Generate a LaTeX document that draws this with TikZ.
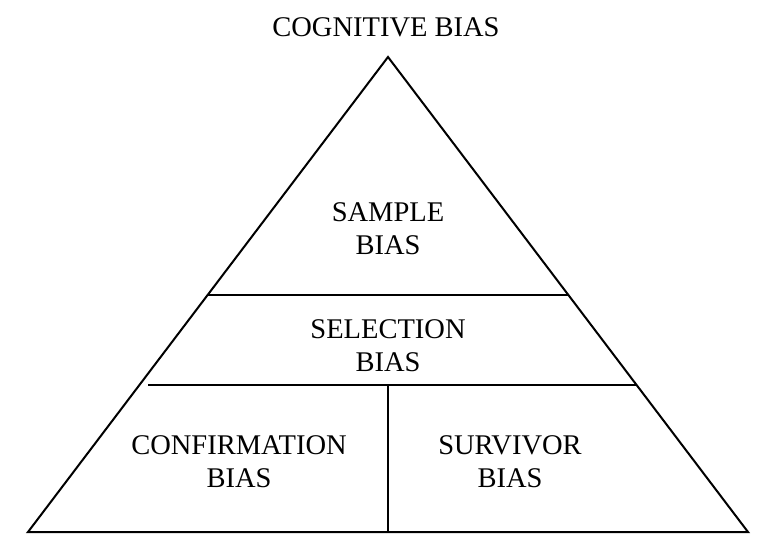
\documentclass[tikz,border=0pt]{standalone}
\usepackage{fontspec}
\setmainfont{Liberation Serif}
\begin{document}
\begin{tikzpicture}[x=1pt,y=-1pt,
  lbl/.style={font=\fontsize{28.5}{33}\selectfont, align=center, inner sep=0pt},
  outline/.style={line width=2pt, line join=miter},
  divider/.style={line width=1.3pt}]
\useasboundingbox (0,0) rectangle (777,556);
\coordinate (apex) at (388,57);
\coordinate (bl) at (28,532);
\coordinate (br) at (748,532);
\draw[outline] (apex) -- (br) -- (bl) -- cycle;
\coordinate (u1) at (207.6,295);
\coordinate (u2) at (568.4,295);
\coordinate (l1) at (148,385);
\coordinate (l2) at (635.5,385);
\coordinate (vt) at (388,385);
\coordinate (vb) at (388,532);
\draw[divider] (u1) -- (u2);
\draw[divider] (l1) -- (l2);
\draw[divider] (vt) -- (vb);
\node[lbl] (title) at (386,27) {COGNITIVE BIAS};
\node[lbl] (sample) at (388,229) {SAMPLE\\BIAS};
\node[lbl] (selection) at (388,346) {SELECTION\\BIAS};
\node[lbl] (confirm) at (239,462) {CONFIRMATION\\BIAS};
\node[lbl] (survivor) at (510,462) {SURVIVOR\\BIAS};
\end{tikzpicture}
\end{document}
